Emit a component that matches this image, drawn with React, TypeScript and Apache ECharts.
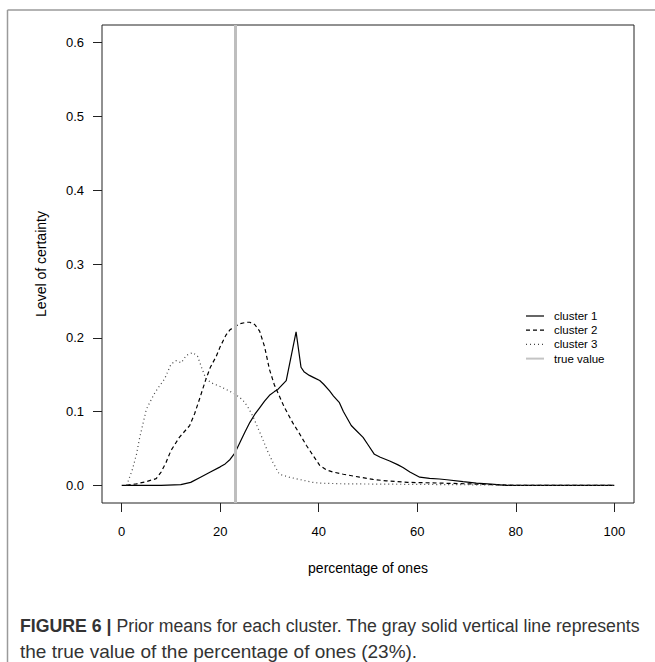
import React, { useEffect, useRef } from "react";
import * as echarts from "echarts";

// ---- data ----
const xTicks = [0, 20, 40, 60, 80, 100];
const yTicks = [0, 0.1, 0.2, 0.3, 0.4, 0.5, 0.6];
const trueValue = 23;

const cluster1: [number, number][] = [
  [0, 0], [4, 0], [8, 0], [12, 0.001], [14, 0.004], [16, 0.011], [18, 0.018],
  [20, 0.025], [21, 0.029], [22, 0.035], [23, 0.044], [24, 0.058], [25, 0.072],
  [26, 0.085], [27, 0.096], [28, 0.105], [29, 0.114], [30, 0.122], [31, 0.127],
  [31.7, 0.130], [33.4, 0.142], [35.4, 0.208], [36.4, 0.160], [37, 0.154],
  [38.1, 0.149], [39, 0.146], [40.2, 0.142], [41, 0.137], [42.2, 0.128],
  [43, 0.121], [44.2, 0.112], [45, 0.100], [46.6, 0.081], [47.5, 0.075],
  [49, 0.065], [50, 0.055], [51.3, 0.042], [52.5, 0.038], [54.4, 0.033],
  [56, 0.028], [57.1, 0.024], [58.5, 0.018], [60.5, 0.011], [62.5, 0.0095],
  [64.5, 0.0085], [66, 0.0075], [69.3, 0.005], [72, 0.003], [75, 0.0015],
  [78, 0], [90, 0], [100, 0],
];

const cluster2: [number, number][] = [
  [1, 0], [3, 0.002], [5, 0.005], [7, 0.009], [8, 0.018], [9, 0.031],
  [10, 0.047], [11.7, 0.065], [13.8, 0.081], [14.8, 0.097], [15.8, 0.117],
  [17.1, 0.144], [18, 0.160], [19.2, 0.175], [20, 0.188], [21.2, 0.204],
  [22, 0.211], [23.2, 0.216], [24, 0.219], [25.3, 0.221], [26, 0.221],
  [27, 0.218], [28, 0.209], [29, 0.188], [30, 0.157], [31, 0.136], [32, 0.121],
  [33, 0.106], [34.7, 0.085], [36, 0.071], [37.5, 0.054], [39, 0.039],
  [40.2, 0.027], [41.5, 0.021], [42.9, 0.018], [45, 0.015], [48.3, 0.011],
  [51, 0.008], [53.7, 0.006], [58, 0.004], [64.5, 0.003], [70, 0.002],
  [75, 0.001], [80, 0], [100, 0],
];

const cluster3: [number, number][] = [
  [1, 0], [2.2, 0.022], [3, 0.042], [3.6, 0.063], [5, 0.103], [6.6, 0.124],
  [7.5, 0.133], [8.7, 0.144], [10, 0.164], [11, 0.169], [12.1, 0.166],
  [13.1, 0.176], [14.4, 0.180], [15.4, 0.175], [16.2, 0.160], [17.1, 0.144],
  [18.5, 0.138], [20, 0.134], [21.2, 0.130], [22.9, 0.124], [24, 0.119],
  [24.9, 0.113], [25.8, 0.104], [26.6, 0.094], [27.5, 0.080], [28.6, 0.063],
  [29.5, 0.048], [30.7, 0.031], [32, 0.015], [34, 0.011], [36, 0.008],
  [38.8, 0.004], [40, 0.003], [45, 0.002], [55, 0.0015], [64.5, 0.001],
  [75, 0.0005], [80, 0], [100, 0],
];

const legendItems = ["cluster 1", "cluster 2", "cluster 3", "true value"];

const FONT = "'Liberation Sans', Arial, Helvetica, sans-serif";

export default function App() {
  const ref = useRef<HTMLDivElement>(null);

  useEffect(() => {
    if (!ref.current) return;
    const chart = echarts.init(ref.current, undefined, { renderer: "svg" });

    const legendStyles = [
      { stroke: "#000", lineWidth: 1.2, lineDash: null as any },
      { stroke: "#000", lineWidth: 1.2, lineDash: [4, 3] },
      { stroke: "#444", lineWidth: 1.2, lineDash: [1, 3] },
      { stroke: "#c4c4c4", lineWidth: 2, lineDash: null as any },
    ];
    const legendGraphics: any[] = [];
    legendItems.forEach((name, i) => {
      const y = 316 + i * 14.2;
      legendGraphics.push({
        type: "line",
        shape: { x1: 526, y1: y, x2: 544, y2: y },
        style: legendStyles[i],
        silent: true,
      });
      legendGraphics.push({
        type: "text",
        x: 554,
        y,
        style: {
          text: name,
          font: `11.5px ${FONT}`,
          fill: "#000",
          verticalAlign: "middle",
          align: "left",
        },
        silent: true,
      });
    });

    const option: any = {
      animation: false,
      backgroundColor: "#fff",
      textStyle: { fontFamily: FONT },
      grid: {
        left: 102,
        right: 21,
        top: 25,
        bottom: 159,
        show: true,
        borderColor: "#222",
        borderWidth: 1,
        backgroundColor: "transparent",
      },
      xAxis: {
        type: "value",
        min: -4,
        max: 104,
        name: "percentage of ones",
        nameLocation: "middle",
        nameGap: 58,
        nameTextStyle: { fontSize: 14, color: "#000", fontFamily: FONT },
        axisLine: { show: false, onZero: false },
        axisTick: {
          show: true,
          length: 9,
          inside: false,
          customValues: xTicks,
          lineStyle: { color: "#222", width: 1 },
        },
        axisLabel: {
          show: true,
          customValues: xTicks,
          margin: 22,
          fontSize: 13,
          color: "#000",
          fontFamily: FONT,
          formatter: (v: number) => String(v),
        },
        splitLine: { show: false },
      },
      yAxis: {
        type: "value",
        min: -0.024,
        max: 0.624,
        name: "Level of certainty",
        nameLocation: "middle",
        nameGap: 54,
        nameRotate: 90,
        nameTextStyle: { fontSize: 14, color: "#000", fontFamily: FONT },
        axisLine: { show: false, onZero: false },
        axisTick: {
          show: true,
          length: 9,
          inside: false,
          customValues: yTicks,
          lineStyle: { color: "#222", width: 1 },
        },
        axisLabel: {
          show: true,
          customValues: yTicks,
          margin: 18,
          fontSize: 13,
          color: "#000",
          fontFamily: FONT,
          formatter: (v: number) => v.toFixed(1),
        },
        splitLine: { show: false },
      },
      series: [
        {
          name: "cluster 1",
          type: "line",
          data: cluster1,
          symbol: "none",
          showSymbol: false,
          lineStyle: { color: "#000", width: 1.2, type: "solid" },
          z: 3,
        },
        {
          name: "cluster 2",
          type: "line",
          data: cluster2,
          symbol: "none",
          showSymbol: false,
          lineStyle: { color: "#000", width: 1.2, type: [4, 3] },
          z: 3,
        },
        {
          name: "cluster 3",
          type: "line",
          data: cluster3,
          symbol: "none",
          showSymbol: false,
          lineStyle: { color: "#444", width: 1.2, type: [1, 3] },
          z: 3,
        },
        {
          name: "true value",
          type: "line",
          data: [],
          symbol: "none",
          z: 4,
          markLine: {
            silent: true,
            symbol: "none",
            label: { show: false },
            lineStyle: { color: "#bebebe", width: 3, type: "solid" },
            data: [{ xAxis: trueValue }],
          },
        },
      ],
      graphic: [
        {
          type: "line",
          shape: { x1: 7.5, y1: 10, x2: 655, y2: 10 },
          style: { stroke: "#9a9a9a", lineWidth: 1.5 },
          silent: true,
        },
        {
          type: "line",
          shape: { x1: 7.5, y1: 10, x2: 7.5, y2: 662 },
          style: { stroke: "#9a9a9a", lineWidth: 1.5 },
          silent: true,
        },
        ...legendGraphics,
        {
          type: "text",
          x: 20,
          y: 625,
          scaleX: 0.932,
          style: {
            text: "{b|FIGURE 6 |} Prior means for each cluster. The gray solid vertical line represents",
            font: `19px ${FONT}`,
            fill: "#333",
            verticalAlign: "middle",
            rich: {
              b: { fontWeight: "bold", fontSize: 19, fontFamily: FONT, fill: "#333" },
            },
          },
          silent: true,
        },
        {
          type: "text",
          x: 20,
          y: 651,
          style: {
            text: "the true value of the percentage of ones (23%).",
            font: `19px ${FONT}`,
            fill: "#333",
            verticalAlign: "middle",
          },
          silent: true,
        },
      ],
    };

    chart.setOption(option);
    return () => chart.dispose();
  }, []);

  return (
    <div
      ref={ref}
      style={{ position: "fixed", left: 0, top: 0, width: 655, height: 662 }}
    />
  );
}
